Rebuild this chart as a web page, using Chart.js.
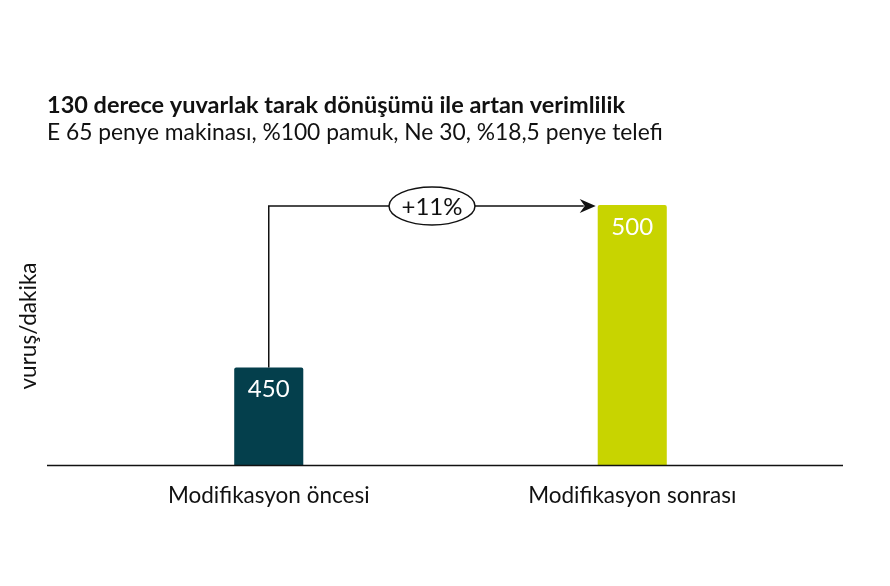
<!DOCTYPE html>
<html>
<head>
<meta charset="utf-8">
<script src="https://cdn.jsdelivr.net/npm/chart.js@4.4.1/dist/chart.umd.min.js"></script>
<style>
  html, body { margin: 0; padding: 0; background: #fff; }
  #wrap { width: 890px; height: 586px; position: relative; }
</style>
</head>
<body>
<div id="wrap"><canvas id="speedChart"></canvas></div>
<script>
// chart data
const categories = ['Modifikasyon öncesi', 'Modifikasyon sonrası'];
const speeds = [450, 500];
const barColors = ['#043f4c', '#c8d400'];
const increaseLabel = '+11%';

const titleText = '130 derece yuvarlak tarak dönüşümü ile artan verimlilik';
const subtitleText = 'E 65 penye makinası, %100 pamuk, Ne 30, %18,5 penye telefi';
const yAxisLabel = 'vuruş/dakika';

const FONT = 'Lato, "Open Sans", sans-serif';

// draws titles, baseline, the arrow and the value labels
const decorations = {
    id: 'decorations',
    afterDatasetsDraw(chart) {
        const ctx = chart.ctx;
        const meta = chart.getDatasetMeta(0);
        const yScale = chart.scales.y;
        ctx.save();

        // titles
        ctx.fillStyle = '#111';
        ctx.textAlign = 'left';
        ctx.textBaseline = 'middle';
        ctx.font = 'bold 23.5px ' + FONT;
        ctx.fillText(titleText, 47, 105);
        ctx.font = '22.8px ' + FONT;
        ctx.fillText(subtitleText, 47, 133);

        // y axis label
        ctx.save();
        ctx.translate(29, 326);
        ctx.rotate(-Math.PI / 2);
        ctx.textAlign = 'center';
        ctx.font = '22.5px ' + FONT;
        ctx.fillText(yAxisLabel, 0, 0);
        ctx.restore();

        // baseline
        const baseY = Math.round(yScale.getPixelForValue(yScale.min)) + 0.5;
        ctx.strokeStyle = '#111';
        ctx.lineWidth = 1.5;
        ctx.beginPath();
        ctx.moveTo(47, baseY);
        ctx.lineTo(843, baseY);
        ctx.stroke();

        // value labels inside bars
        ctx.fillStyle = '#fff';
        ctx.textAlign = 'center';
        ctx.font = '24px ' + FONT;
        meta.data.forEach((bar, i) => {
            ctx.fillText(String(speeds[i]), bar.x, bar.y + 22);
        });

        // arrow from first bar to second bar
        const b0 = meta.data[0], b1 = meta.data[1];
        const lineY = b1.y + 1;
        const startX = b0.x;
        const endX = b1.x - b1.width / 2 - 2;
        ctx.strokeStyle = '#111';
        ctx.lineWidth = 1.5;
        ctx.beginPath();
        ctx.moveTo(startX, b0.y);
        ctx.lineTo(startX, lineY);
        ctx.lineTo(endX - 12, lineY);
        ctx.stroke();
        ctx.fillStyle = '#111';
        ctx.beginPath();
        ctx.moveTo(endX, lineY);
        ctx.lineTo(endX - 16, lineY - 7);
        ctx.lineTo(endX - 11, lineY);
        ctx.lineTo(endX - 16, lineY + 7);
        ctx.closePath();
        ctx.fill();

        // ellipse with percentage
        const cx = 432;
        ctx.beginPath();
        ctx.ellipse(cx, lineY, 43, 19, 0, 0, Math.PI * 2);
        ctx.fillStyle = '#fff';
        ctx.fill();
        ctx.stroke();
        ctx.fillStyle = '#111';
        ctx.font = '24px ' + FONT;
        ctx.fillText(increaseLabel, cx, lineY + 1);

        ctx.restore();
    }
};

const ctx = document.getElementById('speedChart').getContext('2d');
new Chart(ctx, {
    type: 'bar',
    data: {
        labels: categories,
        datasets: [{
            data: speeds,
            backgroundColor: barColors,
            borderRadius: { topLeft: 2, topRight: 2 },
            borderSkipped: 'bottom',
            barPercentage: 0.19,
            categoryPercentage: 1
        }]
    },
    plugins: [decorations],
    options: {
        responsive: true,
        maintainAspectRatio: false,
        animation: false,
        layout: {
            padding: { left: 87, right: 76, top: 75, bottom: 60 }
        },
        plugins: {
            legend: { display: false },
            tooltip: { enabled: false }
        },
        scales: {
            y: {
                display: false,
                min: 420,
                max: 540
            },
            x: {
                grid: { display: false, drawTicks: false },
                border: { display: false },
                ticks: {
                    color: '#111',
                    padding: 17,
                    font: { family: FONT, size: 22.5 }
                }
            }
        }
    }
});
</script>
</body>
</html>
